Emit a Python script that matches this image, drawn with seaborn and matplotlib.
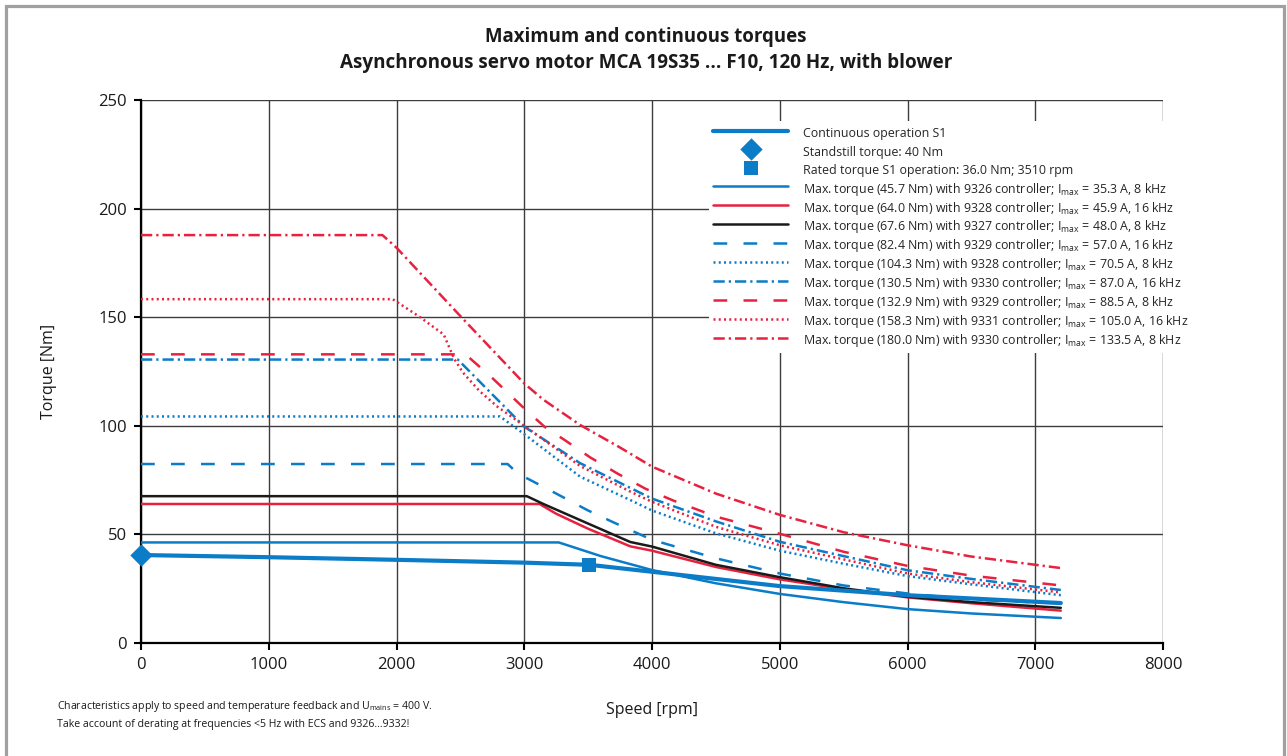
import numpy as np
import pandas as pd
import matplotlib
matplotlib.use("Agg")
import matplotlib.pyplot as plt
import seaborn as sns
from matplotlib.patches import Rectangle

sns.set_style("ticks")
plt.rcParams['font.family'] = ['Open Sans', 'DejaVu Sans']
plt.rcParams['mathtext.fontset'] = 'custom'
plt.rcParams['mathtext.rm'] = 'Open Sans'
plt.rcParams['mathtext.it'] = 'Open Sans:italic'

BLUE = '#0a7cc8'
RED = '#e8213f'
BLACK = '#1a1a1a'

# ---------------- data ----------------
s1_speed = [0, 1000, 2000, 3000, 3510, 4000, 5000, 6000, 7200]
s1_torque = [40.5, 39.5, 38.3, 37.0, 36.0, 32.8, 26.2, 22.0, 18.4]

standstill_speed = [0]
standstill_torque = [40.5]
rated_speed = [3510]
rated_torque = [36.0]

c9326_speed = [0, 3270, 3600, 4000, 4500, 5000, 5500, 6000, 6500, 7200]
c9326_torque = [46.3, 46.3, 40.0, 33.6, 27.5, 22.6, 18.8, 15.6, 13.6, 11.5]

c9328a_speed = [0, 3120, 3250, 3500, 3830, 4000, 4500, 5000, 5500, 6000, 6500, 7200]
c9328a_torque = [64.0, 64.0, 59.5, 52.6, 44.5, 42.5, 35.0, 29.3, 24.8, 21.0, 18.3, 14.9]

c9327_speed = [0, 3020, 3150, 3437, 3830, 4000, 4500, 5000, 5500, 6000, 6500, 7200]
c9327_torque = [67.6, 67.6, 64.0, 56.6, 46.5, 44.4, 36.0, 30.3, 25.2, 21.3, 18.8, 16.2]

c9329a_speed = [0, 2870, 2950, 3000, 3250, 3500, 3700, 4000, 4500, 5000, 5500, 6000, 6500, 7200]
c9329a_torque = [82.4, 82.4, 78.0, 76.5, 68.8, 61.0, 55.5, 47.5, 39.0, 32.0, 26.5, 22.8, 20.0, 18.2]

c9328b_speed = [0, 2810, 2990, 3437, 3830, 4000, 4500, 5000, 5500, 6000, 6500, 7200]
c9328b_torque = [104.3, 104.3, 96.6, 76.6, 65.8, 61.0, 50.5, 42.5, 36.5, 30.8, 27.0, 22.0]

c9330a_speed = [0, 2480, 3000, 3437, 3830, 4000, 4500, 5000, 5500, 6000, 6500, 7200]
c9330a_torque = [130.5, 130.5, 99.6, 82.8, 71.4, 66.5, 56.0, 46.6, 40.0, 33.5, 29.5, 24.4]

c9329b_speed = [0, 2540, 2750, 3000, 3160, 3315, 3515, 3730, 3950, 4170, 4500, 5000, 5500, 6000, 6500, 7200]
c9329b_torque = [132.9, 132.9, 122.0, 108.0, 99.5, 93.5, 85.5, 78.0, 71.0, 65.5, 58.2, 50.3, 42.0, 35.5, 31.0, 26.5]

c9331_speed = [0, 1970, 2180, 2370, 2450, 2520, 2650, 2790, 3000, 3437, 3830, 4000, 4500, 5000, 5500, 6000, 6500, 7200]
c9331_torque = [158.3, 158.3, 150.2, 142.0, 131.0, 124.5, 116.0, 108.8, 100.0, 81.5, 69.7, 65.0, 53.5, 45.0, 38.5, 32.0, 28.0, 23.3]

c9330b_speed = [0, 1890, 2000, 2500, 3000, 3150, 3437, 3750, 4000, 4500, 5000, 5500, 6000, 6500, 7200]
c9330b_torque = [187.8, 187.8, 182.0, 150.5, 119.5, 112.0, 100.4, 90.0, 81.2, 68.8, 59.0, 51.0, 45.0, 39.8, 34.5]

x_ticks = [0, 1000, 2000, 3000, 4000, 5000, 6000, 7000, 8000]
y_ticks = [0, 50, 100, 150, 200, 250]

IM = r'I$_\mathregular{max}$'
labels = [
    'Continuous operation S1',
    'Standstill torque: 40 Nm',
    'Rated torque S1 operation: 36.0 Nm; 3510 rpm',
    'Max. torque (45.7 Nm) with 9326 controller; ' + IM + ' = 35.3 A, 8 kHz',
    'Max. torque (64.0 Nm) with 9328 controller; ' + IM + ' = 45.9 A, 16 kHz',
    'Max. torque (67.6 Nm) with 9327 controller; ' + IM + ' = 48.0 A, 8 kHz',
    'Max. torque (82.4 Nm) with 9329 controller; ' + IM + ' = 57.0 A, 16 kHz',
    'Max. torque (104.3 Nm) with 9328 controller; ' + IM + ' = 70.5 A, 8 kHz',
    'Max. torque (130.5 Nm) with 9330 controller; ' + IM + ' = 87.0 A, 16 kHz',
    'Max. torque (132.9 Nm) with 9329 controller; ' + IM + ' = 88.5 A, 8 kHz',
    'Max. torque (158.3 Nm) with 9331 controller; ' + IM + ' = 105.0 A, 16 kHz',
    'Max. torque (180.0 Nm) with 9330 controller; ' + IM + ' = 133.5 A, 8 kHz',
]

# ---------------- figure ----------------
fig = plt.figure(figsize=(12.87, 7.56), dpi=100)
ax = fig.add_axes([141/1287, 1 - 643/756, (1163-141)/1287, (643-100)/756])

LW = 1.8
DASH = (0, (5.5, 6.5))
DOT = (0, (0.8, 1.3))
DASHDOT = (0, (4.5, 1.6, 0.9, 1.6))

curves = [
    (c9326_speed, c9326_torque, BLUE, '-'),
    (c9328a_speed, c9328a_torque, RED, '-'),
    (c9327_speed, c9327_torque, BLACK, '-'),
    (c9329a_speed, c9329a_torque, BLUE, DASH),
    (c9328b_speed, c9328b_torque, BLUE, DOT),
    (c9330a_speed, c9330a_torque, BLUE, DASHDOT),
    (c9329b_speed, c9329b_torque, RED, DASH),
    (c9331_speed, c9331_torque, RED, DOT),
    (c9330b_speed, c9330b_torque, RED, DASHDOT),
]

handles = []
sns.lineplot(x=s1_speed, y=s1_torque, ax=ax, color=BLUE, linewidth=3.0,
             estimator=None, sort=False, zorder=4)
handles.append(ax.lines[-1])
sns.scatterplot(x=standstill_speed, y=standstill_torque, ax=ax, marker='D', s=130,
                color=BLUE, linewidth=0, zorder=6, clip_on=False)
handles.append(ax.collections[-1])
sns.scatterplot(x=rated_speed, y=rated_torque, ax=ax, marker='s', s=110,
                color=BLUE, linewidth=0, zorder=6, clip_on=False)
handles.append(ax.collections[-1])

for sp, tq, col, ls in curves:
    sns.lineplot(x=sp, y=tq, ax=ax, color=col, linewidth=LW, linestyle=ls,
                 estimator=None, sort=False, zorder=3)
    handles.append(ax.lines[-1])

ax.set_xlim(0, 8000)
ax.set_ylim(0, 250)
ax.set_xticks(x_ticks)
ax.set_yticks(y_ticks)
ax.tick_params(axis='both', direction='out', length=5, width=1.5, color='black',
               labelsize=12, pad=5, labelcolor='#1a1a1a')
ax.grid(True, color='#3c3c3c', linewidth=1.0)
ax.set_axisbelow(True)
for side in ['top', 'right']:
    ax.spines[side].set_visible(False)
for side in ['left', 'bottom']:
    ax.spines[side].set_color('black')
    ax.spines[side].set_linewidth(1.6)

ax.set_xlabel('Speed [rpm]', fontsize=11.5, labelpad=21, color='#1a1a1a')
ax.set_ylabel('Torque [Nm]', fontsize=11.5, labelpad=30, color='#1a1a1a')

leg = ax.legend(handles, labels, loc='upper left', bbox_to_anchor=(0.556, 0.962),
                frameon=True, facecolor='white', edgecolor='none', framealpha=1.0,
                fancybox=False, fontsize=8.9, handlelength=6.1, handleheight=1.78,
                handletextpad=1.2, labelspacing=0.1, borderaxespad=0, borderpad=0.3)
leg.set_zorder(10)

fig.text(0.502, 1 - 37/756, 'Maximum and continuous torques', ha='center', va='center',
         fontsize=13.4, fontweight='bold', color='#1a1a1a')
fig.text(0.502, 1 - 63/756, 'Asynchronous servo motor MCA 19S35 ... F10, 120 Hz, with blower',
         ha='center', va='center', fontsize=13.6, fontweight='bold', color='#1a1a1a')

fig.text(57/1287, 1 - 706/756,
         r'Characteristics apply to speed and temperature feedback and U$_\mathregular{mains}$ = 400 V.',
         ha='left', va='center', fontsize=7.6, color='#1a1a1a')
fig.text(57/1287, 1 - 725/756,
         'Take account of derating at frequencies <5 Hz with ECS and 9326...9332!',
         ha='left', va='center', fontsize=7.6, color='#1a1a1a')

fig.add_artist(Rectangle((5.5/1287, -0.05), (1284 - 5.5)/1287, 1.05 - 6.5/756,
                         transform=fig.transFigure, fill=False, edgecolor='#a0a0a0',
                         linewidth=2.3))

fig.savefig('out.png', dpi=100)
